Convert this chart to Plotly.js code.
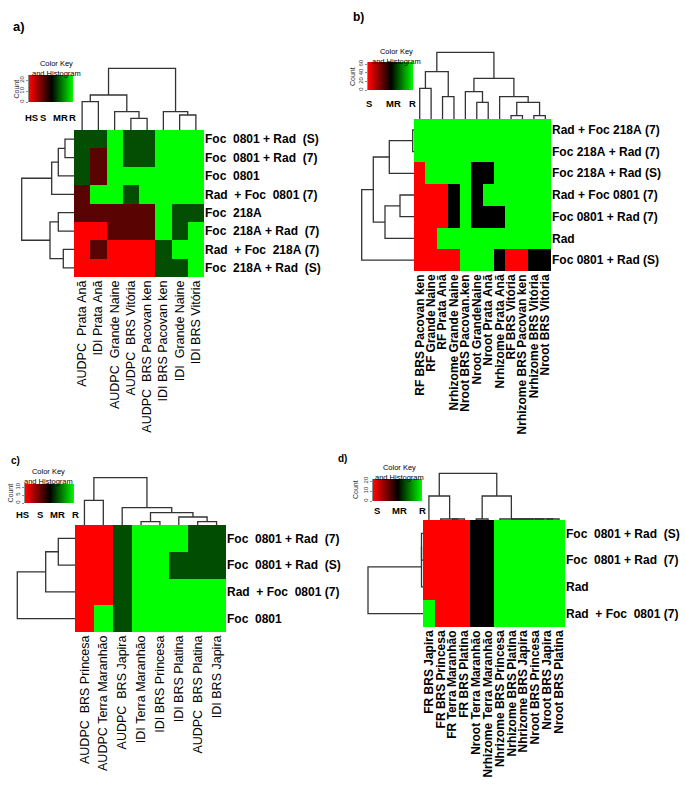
<!DOCTYPE html>
<html><head><meta charset="utf-8">
<script src="https://cdn.plot.ly/plotly-3.0.1.min.js"></script>
<style>html,body{margin:0;padding:0;background:#fff}#chart{width:685px;height:789px}</style>
</head><body><div id="chart"></div>
<script>
// ---------------- DATA ----------------
const aCols = ['AUDPC  Prata Anã','IDI Prata Anã','AUDPC  Grande Naine','AUDPC  BRS Vitória','AUDPC  BRS Pacovan ken','IDI BRS Pacovan ken','IDI  Grande Naine','IDI BRS Vitória'];
const aRows = ['Foc  0801 + Rad  (S)','Foc  0801 + Rad  (7)','Foc  0801','Rad  + Foc  0801 (7)','Foc  218A','Foc  218A + Rad  (7)','Rad  + Foc  218A (7)','Foc  218A + Rad  (S)'];
const aZ = [
  [2,2,3,2,2,3,3,3],
  [2,1,3,2,2,3,3,3],
  [2,1,3,3,3,3,3,3],
  [1,3,3,2,3,3,3,3],
  [1,1,1,1,1,3,2,2],
  [0,0,1,1,1,3,2,3],
  [0,1,0,0,0,2,3,3],
  [0,0,0,0,0,2,2,3]];
const aColTree = [[[0,1,28.3],[2,[3,4,11.7],18.3],35],[5,[6,7,15],18.3],61.7];
const aRowTree = [[[[0,1,9],2,15.7],3,22.3],[[4,5,15.7],[6,7,10.7],24],52.3];
const aKeyLabels = ['HS','S','MR','R'];
const aKeyCounts = [0,10,20];

const bCols = ['RF BRS Pacovan ken','RF Grande Naine','RF Prata Anã','Nrhizome Grande Naine','Nroot BRS Pacovan.ken','Nroot GrandeNaine','Nroot Prata Anã','Nrhizome Prata Anã','RF BRS Vitória','Nrhizome BRS Pacovan ken','Nrhizome BRS Vitória','Nroot BRS Vitória'];
const bRows = ['Rad + Foc 218A (7)','Foc 218A + Rad (7)','Foc 218A + Rad (S)','Rad + Foc 0801 (7)','Foc 0801 + Rad (7)','Rad','Foc 0801 + Rad (S)'];
const bZ = [
  [2,2,2,2,2,2,2,2,2,2,2,2],
  [2,2,2,2,2,2,2,2,2,2,2,2],
  [0,2,2,2,2,1,1,2,2,2,2,2],
  [0,0,0,1,2,1,2,2,2,2,2,2],
  [0,0,0,1,2,1,1,1,2,2,2,2],
  [0,0,2,2,2,2,2,2,2,2,2,2],
  [0,0,0,0,2,2,2,1,0,0,1,1]];
const bColTree = [[[0,1,30.7],[2,3,22.3],47.3],[[4,[5,6,16.7],27.3],[7,[[8,9,3.3],[10,11,3.3],16.7],22.3],40.7],66.7];
const bRowTree = [[[[0,1,1.3],2,24.7],[[3,4,14],5,29],40.7],6,52.3];
const bKeyLabels = ['S','MR','R'];
const bKeyCounts = [0,20,40,60];

const cCols = ['AUDPC  BRS Princesa','AUDPC Terra Maranhão','AUDPC  BRS Japira','IDI Terra Maranhão','IDI BRS Princesa','IDI BRS Platina','AUDPC  BRS Platina','IDI BRS Japira'];
const cRows = ['Foc  0801 + Rad  (7)','Foc  0801 + Rad  (S)','Rad  + Foc  0801 (7)','Foc  0801'];
const cZ = [
  [0,0,2,3,3,3,2,2],
  [0,0,2,3,3,2,2,2],
  [0,0,2,3,3,3,3,3],
  [0,3,2,3,3,3,3,3]];
const cColTree = [[0,1,24.7],[2,[[3,4,3.3],[5,[6,7,3.3],8],12.3],17.3],47.3];
const cRowTree = [[[0,1,16.7],2,29.3],3,57.7];
const cKeyLabels = ['HS','S','MR','R'];
const cKeyCounts = [0,5,10];

const dCols = ['FR BRS Japira','FR BRS Princesa','FR Terra Maranhão','FR BRS Platina','Nroot Terra Maranhão','Nrhizome Terra Maranhão','Nhrizome BRS Princesa','Nrhizome BRS Platina','Nhrizome BRS Japira','Nroot BRS Princesa','Nroot BRS Japira','Nroot BRS Platina'];
const dRows = ['Foc  0801 + Rad  (S)','Foc  0801 + Rad  (7)','Rad','Rad  + Foc  0801 (7)'];
const dZ = [
  [0,0,0,0,1,1,2,2,2,2,2,2],
  [0,0,0,0,1,1,2,2,2,2,2,2],
  [0,0,0,0,1,1,2,2,2,2,2,2],
  [2,0,0,0,1,1,2,2,2,2,2,2]];
const dColTree = [[0,[1,[2,3,1],1],24],[[4,5,1],[6,[7,[8,[9,[10,11,1],1],1],1],1],24],46.7];
const dRowTree = [[[0,1,1.5],2,1.5],3,55];
const dKeyLabels = ['S','MR','R'];
const dKeyCounts = [0,10,20];

// ---------------- LAYOUT / STYLE ----------------
const W = 685, H = 789;
const X = p => p / W, Y = p => 1 - p / H;
const FONT = 'Liberation Sans, Arial, sans-serif';
const sp = s => s.replace(/ /g, '\u00a0');

const panels = [
  {cols:aCols, rows:aRows, z:aZ, colTree:aColTree, rowTree:aRowTree,
   colors:['#ff0000','#5a0303','#044e04','#00ff00'],
   box:{l:74,r:204,t:130,b:277}, colFont:{size:12.5, weight:'normal'},
   key:{l:29,r:73,t:75,b:102, labels:aKeyLabels, lx:[31,43,60,72], ly:117, counts:aKeyCounts, cmax:25, countX:16, titleX:56, titleY:68},
   tag:{text:'a)', x:19, y:26, size:13}},
  {cols:bCols, rows:bRows, z:bZ, colTree:bColTree, rowTree:bRowTree,
   colors:['#ff0000','#000000','#00ff00'],
   box:{l:414,r:551,t:119,b:271}, colFont:{size:12, weight:'bold'},
   key:{l:368,r:413,t:62,b:90, labels:bKeyLabels, lx:[369,393,413], ly:103, counts:bKeyCounts, cmax:65, countX:353, titleX:396, titleY:56},
   tag:{text:'b)', x:358, y:17, size:12}},
  {cols:cCols, rows:cRows, z:cZ, colTree:cColTree, rowTree:cRowTree,
   colors:['#ff0000','#5a0303','#014d01','#00ff00'],
   box:{l:75,r:226,t:525,b:632}, colFont:{size:12.5, weight:'normal'},
   key:{l:25,r:74,t:484,b:503, labels:cKeyLabels, lx:[22,40,57,75], ly:514, counts:cKeyCounts, cmax:12, countX:10, titleX:49, titleY:476},
   tag:{text:'c)', x:16, y:460, size:10}},
  {cols:dCols, rows:dRows, z:dZ, colTree:dColTree, rowTree:dRowTree,
   colors:['#ff0000','#000000','#00ff00'],
   box:{l:423,r:565,t:520,b:627}, colFont:{size:12, weight:'bold'},
   key:{l:373,r:422,t:479,b:501, labels:dKeyLabels, lx:[377,400,422], ly:510, counts:dKeyCounts, cmax:22, countX:355, titleX:400, titleY:472},
   tag:{text:'d)', x:342, y:458, size:10}}
];

const layout = {width:W, height:H, margin:{l:0,r:0,t:0,b:0,pad:0}, paper_bgcolor:'#ffffff',
  plot_bgcolor:'rgba(0,0,0,0)', showlegend:false, font:{family:FONT, color:'#000'}, annotations:[]};
const data = [];
let nx = 0, ny = 0;
function addAxis(kind, cfg) {
  const n = kind === 'x' ? ++nx : ++ny;
  const key = kind + 'axis' + (n === 1 ? '' : n);
  layout[key] = Object.assign({showgrid:false, zeroline:false, fixedrange:true, automargin:false}, cfg);
  return {id: kind + (n === 1 ? '' : n), key};
}

function dendro(tree, horizontal) {
  const xs = [], ys = [];
  function walk(node) {
    if (typeof node === 'number') return {p:node, h:0};
    const L = walk(node[0]), R = walk(node[1]), h = node[2];
    [[L.p,L.h],[L.p,h],[R.p,h],[R.p,R.h]].forEach(([p,hh]) => {
      if (horizontal) { xs.push(hh); ys.push(p); } else { xs.push(p); ys.push(hh); }
    });
    xs.push(null); ys.push(null);
    return {p:(L.p + R.p) / 2, h};
  }
  const root = walk(tree);
  return {xs, ys, rootH: root.h};
}

function bands(colors) {
  const n = colors.length, cs = [];
  colors.forEach((c, i) => { cs.push([i / n, c]); cs.push([(i + 1) / n, c]); });
  return cs;
}

panels.forEach(P => {
  const b = P.box, nc = P.cols.length, nr = P.rows.length;
  const colIdx = P.cols.map((_, i) => i), rowIdx = P.rows.map((_, i) => i);
  const hx = addAxis('x', {domain:[X(b.l), X(b.r)], range:[-0.5, nc - 0.5], tickmode:'array',
    tickvals:colIdx, ticktext:P.cols.map(sp), tickangle:-90, ticks:'', showline:false,
    tickfont:{family:FONT, size:P.colFont.size, weight:P.colFont.weight, color:'#000'}});
  const hy = addAxis('y', {domain:[Y(b.b), Y(b.t)], range:[nr - 0.5, -0.5], side:'right', tickmode:'array',
    tickvals:rowIdx, ticktext:P.rows.map(sp), ticks:'', showline:false,
    tickfont:{family:FONT, size:12, weight:'bold', color:'#000'}});
  layout[hx.key].anchor = hy.id; layout[hy.key].anchor = hx.id;
  data.push({type:'heatmap', z:P.z, x:colIdx, y:rowIdx, xaxis:hx.id, yaxis:hy.id,
    zmin:-0.5, zmax:P.colors.length - 0.5, colorscale:bands(P.colors), showscale:false, hoverinfo:'skip'});

  const cd = dendro(P.colTree, false);
  const cdy = addAxis('y', {domain:[Y(b.t), Y(b.t - cd.rootH - 1.5)], range:[0, cd.rootH + 1.5], autorange:false, visible:false, anchor:hx.id});
  data.push({type:'scatter', mode:'lines', x:cd.xs, y:cd.ys, xaxis:hx.id, yaxis:cdy.id,
    line:{color:'#333', width:1.3}, hoverinfo:'skip', connectgaps:false});

  const rd = dendro(P.rowTree, true);
  const rdx = addAxis('x', {domain:[X(b.l - rd.rootH - 1.5), X(b.l)], range:[rd.rootH + 1.5, 0], autorange:false, visible:false, anchor:hy.id});
  data.push({type:'scatter', mode:'lines', x:rd.xs, y:rd.ys, xaxis:rdx.id, yaxis:hy.id,
    line:{color:'#333', width:1.3}, hoverinfo:'skip', connectgaps:false});

  const K = P.key;
  const kx = addAxis('x', {domain:[X(K.l), X(K.r)], range:[0, 1], visible:false});
  const ky = addAxis('y', {domain:[Y(K.b), Y(K.t)], range:[0, K.cmax], tickmode:'array', tickvals:K.counts,
    ticks:'outside', ticklen:2, tickwidth:0.6, tickcolor:'#444', tickangle:-90, showline:true, linewidth:0.6, linecolor:'#444',
    tickfont:{family:FONT, size:6, color:'#333'}, side:'left'});
  layout[kx.key].anchor = ky.id; layout[ky.key].anchor = kx.id;
  data.push({type:'heatmap', z:[[0,1],[0,1]], x:[0,1], y:[0,K.cmax], xaxis:kx.id, yaxis:ky.id, zsmooth:'best',
    zmin:0, zmax:1, colorscale:[[0,'#ff0000'],[0.5,'#000000'],[1,'#00ff00']], showscale:false, hoverinfo:'skip'});
  K.labels.forEach((t, i) => layout.annotations.push({text:'<b>' + t + '</b>', x:X(K.lx[i]), y:Y(K.ly), xref:'paper', yref:'paper',
    showarrow:false, xanchor:'center', yanchor:'middle', font:{family:FONT, size:9.5, color:'#000'}}));
  layout.annotations.push({text:'Color Key<br>and Histogram', x:X(K.titleX), y:Y(K.titleY), xref:'paper', yref:'paper',
    showarrow:false, xanchor:'center', yanchor:'middle', align:'center', font:{family:FONT, size:7.5, color:'#000'}});
  layout.annotations.push({text:'Count', x:X(K.countX), y:Y((K.t + K.b) / 2), xref:'paper', yref:'paper', textangle:-90,
    showarrow:false, xanchor:'center', yanchor:'middle', font:{family:FONT, size:7, color:'#333'}});

  layout.annotations.push({text:'<b>' + P.tag.text + '</b>', x:X(P.tag.x), y:Y(P.tag.y), xref:'paper', yref:'paper',
    showarrow:false, xanchor:'center', yanchor:'middle', font:{family:FONT, size:P.tag.size, color:'#000'}});
});

Plotly.newPlot('chart', data, layout, {staticPlot:true, displayModeBar:false});
</script></body></html>
